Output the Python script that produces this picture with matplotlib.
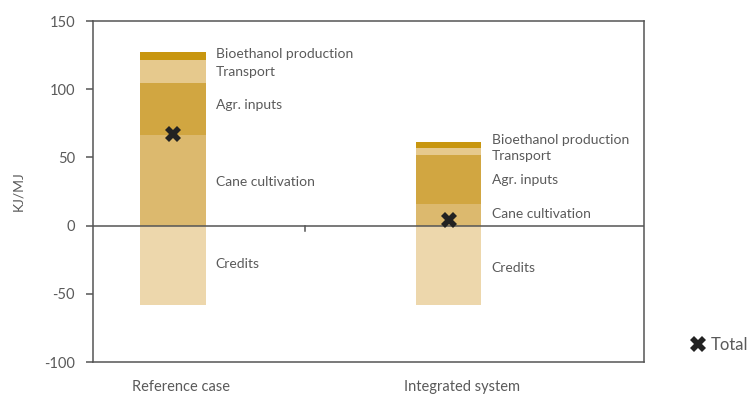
import matplotlib.pyplot as plt

plt.rcParams['font.family'] = ['Lato', 'DejaVu Sans']

# data (kJ/MJ)
cases = ["Reference case", "Integrated system"]
stages = ["Cane cultivation", "Agr. inputs", "Transport", "Bioethanol production"]
positive = {
    "Cane cultivation": [66.5, 16.0],
    "Agr. inputs": [38.0, 35.5],
    "Transport": [17.0, 5.5],
    "Bioethanol production": [6.0, 4.0],
}
credits = [-58.0, -58.5]
totals = [67.0, 4.0]

colors = {
    "Cane cultivation": "#dcb96e",
    "Agr. inputs": "#d1a641",
    "Transport": "#e6c98d",
    "Bioethanol production": "#c8960f",
    "Credits": "#edd7ac",
}
txt_col = "#5a5a5a"
axis_col = "#555555"

fig = plt.figure(figsize=(7.53, 3.99), dpi=100)
ax = fig.add_axes([0.1235, 0.0927, 0.7317, 0.8546])

x = [0, 1]
w = 0.236

# credits (negative)
ax.bar(x, credits, width=w, color=colors["Credits"], zorder=2)

# positive stack
bottoms = [0.0, 0.0]
mids = {}
for s in stages:
    vals = positive[s]
    ax.bar(x, vals, width=w, bottom=bottoms, color=colors[s], zorder=2)
    mids[s] = [b + v / 2 for b, v in zip(bottoms, vals)]
    bottoms = [b + v for b, v in zip(bottoms, vals)]
mids["Credits"] = [c / 2 for c in credits]

# labels next to bars (small nudges to avoid overlap)
nudge = {
    ("Bioethanol production", 0): 1.0, ("Transport", 0): -0.5,
    ("Agr. inputs", 0): 3.0, ("Cane cultivation", 0): -1.0,
    ("Credits", 0): 0.5,
    ("Bioethanol production", 1): 3.5, ("Transport", 1): -3.5,
    ("Agr. inputs", 1): 0.0, ("Cane cultivation", 1): 0.5,
    ("Credits", 1): -2.0,
}
for i in x:
    for s in stages + ["Credits"]:
        ax.text(i + 0.155, mids[s][i] + nudge[(s, i)], s, fontsize=10,
                color=txt_col, va="center", ha="left")

# totals
ax.plot(x, totals, linestyle="none", marker="X", markersize=11,
        color="#222222", markeredgewidth=0, zorder=4)

# zero line with a category tick
ax.axhline(0, color=axis_col, linewidth=1.1, zorder=3)
ax.plot([0.478, 0.478], [0, -3.8], color=axis_col, linewidth=1.1, zorder=3)

ax.set_xlim(-0.29, 1.707)
ax.set_ylim(-100, 150)
ax.set_yticks([-100, -50, 0, 50, 100, 150])
ax.set_yticklabels(["-100", "-50", "0", "50", "100", "150"])
ax.set_xticks([])
ax.tick_params(axis="y", length=5, width=1.1, color=axis_col,
               labelcolor=txt_col, labelsize=10.5, pad=8)
for sp in ax.spines.values():
    sp.set_color(axis_col)
    sp.set_linewidth(1.1)

ax.set_ylabel("KJ/MJ", color=txt_col, fontsize=10, labelpad=14)

for i, off in zip(x, [0.03, 0.047]):
    ax.text(i + off, -118.5, cases[i], fontsize=10.5, color=txt_col,
            ha="center", va="center", clip_on=False)

# legend for total marker
ax.plot([], [], linestyle="none", marker="X", markersize=12,
        color="#222222", markeredgewidth=0, label="Total")
leg = ax.legend(loc="center left", bbox_to_anchor=(1.055, 0.05), frameon=False,
                fontsize=12, handletextpad=0.3, handlelength=1.0)
for t in leg.get_texts():
    t.set_color(txt_col)

fig.savefig("out.png", dpi=100)
